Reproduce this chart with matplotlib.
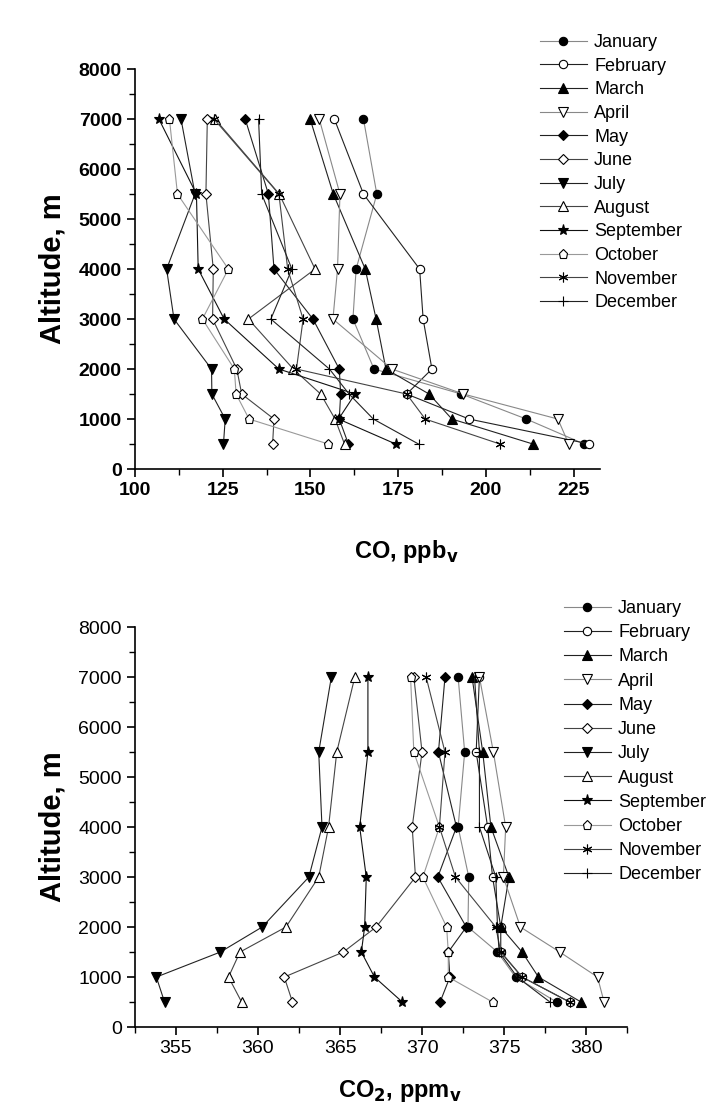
import matplotlib.pyplot as plt
from matplotlib.ticker import MultipleLocator

# Vertical profiles of CO and CO2 by month
altitude = [7000, 5500, 4000, 3000, 2000, 1500, 1000, 500]
months = ["January", "February", "March", "April", "May", "June",
          "July", "August", "September", "October", "November", "December"]

# CO, ppbv
co_jan = [165.1, 168.9, 163.0, 162.1, 168.1, 193.0, 211.5, 228.0]
co_feb = [156.8, 165.1, 181.1, 182.1, 184.6, 177.4, 195.2, 229.5]
co_mar = [149.9, 156.5, 165.6, 168.7, 171.5, 183.8, 190.3, 213.4]
co_apr = [152.5, 158.4, 157.7, 156.4, 173.2, 193.6, 220.5, 223.6]
co_may = [131.4, 138.0, 139.6, 150.7, 158.2, 158.6, 158.2, 160.8]
co_jun = [120.6, 120.2, 122.3, 122.1, 129.0, 130.4, 139.6, 139.2]
co_jul = [113.1, 117.1, 109.0, 111.1, 121.8, 121.9, 125.7, 125.2]
co_aug = [122.8, 141.1, 151.3, 132.3, 145.1, 152.9, 157.0, 159.7]
co_sep = [106.8, 117.5, 118.0, 125.4, 141.0, 162.7, 158.0, 174.3]
co_oct = [109.8, 112.1, 126.6, 119.2, 128.3, 128.8, 132.5, 155.1]
co_nov = [122.5, 141.0, 143.5, 147.9, 146.0, 177.4, 182.7, 204.0]
co_dec = [135.2, 136.1, 144.7, 138.7, 155.4, 161.0, 167.9, 180.8]

# CO2, ppmv
co2_jan = [372.2, 372.6, 372.2, 372.85, 372.8, 374.6, 375.7, 378.2]
co2_feb = [373.5, 373.3, 374.0, 374.3, 374.8, 374.8, 376.1, 379.0]
co2_mar = [373.05, 373.7, 374.2, 375.3, 374.8, 376.1, 377.1, 379.7]
co2_apr = [373.5, 374.35, 375.1, 374.96, 376.0, 378.4, 380.7, 381.1]
co2_may = [371.4, 371.0, 372.1, 370.96, 372.7, 371.6, 371.7, 371.1]
co2_jun = [369.5, 370.0, 369.4, 369.6, 367.2, 365.2, 361.6, 362.1]
co2_jul = [364.47, 363.7, 363.9, 363.1, 360.25, 357.7, 353.8, 354.3]
co2_aug = [365.9, 364.8, 364.3, 363.7, 361.7, 358.9, 358.2, 359.0]
co2_sep = [366.7, 366.7, 366.2, 366.6, 366.5, 366.3, 367.1, 368.8]
co2_oct = [369.3, 369.5, 371.06, 370.05, 371.5, 371.6, 371.6, 374.3]
co2_nov = [370.25, 371.4, 371.06, 372.04, 374.5, 374.8, 376.1, 379.0]
co2_dec = [373.2, 373.5, 373.5, 374.5, 374.6, 374.7, 375.8, 377.8]

co_series = [co_jan, co_feb, co_mar, co_apr, co_may, co_jun,
             co_jul, co_aug, co_sep, co_oct, co_nov, co_dec]
co2_series = [co2_jan, co2_feb, co2_mar, co2_apr, co2_may, co2_jun,
              co2_jul, co2_aug, co2_sep, co2_oct, co2_nov, co2_dec]

# marker, filled?, size, line colour
styles = [
    ("o", True, 6, "#888888"),
    ("o", False, 6, "#222222"),
    ("^", True, 7, "#222222"),
    ("v", False, 7, "#888888"),
    ("D", True, 5.5, "#222222"),
    ("D", False, 5.5, "#444444"),
    ("v", True, 7, "#222222"),
    ("^", False, 7, "#444444"),
    ("*", True, 8, "#111111"),
    ("p", False, 6.5, "#999999"),
    ((6, 2, 0), True, 7, "#444444"),
    ("+", True, 7, "#222222"),
]

plt.rcParams["font.family"] = ["Liberation Sans", "DejaVu Sans"]

fig = plt.figure(figsize=(7.19, 11.12), dpi=100)
ax1 = fig.add_axes([0.1878, 0.5782, 0.6467, 0.3597])
ax2 = fig.add_axes([0.1878, 0.0764, 0.6843, 0.3597])


def draw(ax, series):
    for vals, name, (mk, filled, ms, lc) in zip(series, months, styles):
        ax.plot(vals, altitude, color=lc, lw=0.8, marker=mk, ms=ms,
                mfc="black" if filled else "white", mec="black", mew=0.8,
                label=name)


def style(ax, weight):
    for side in ["top", "right"]:
        ax.spines[side].set_visible(False)
    for side in ["left", "bottom"]:
        ax.spines[side].set_linewidth(1.2)
    ax.set_ylim(0, 8000)
    ax.yaxis.set_major_locator(MultipleLocator(1000))
    ax.yaxis.set_minor_locator(MultipleLocator(500))
    ax.tick_params(which="major", direction="out", length=6, width=1.2,
                   labelsize=14)
    ax.tick_params(which="minor", direction="out", length=4, width=1.0)
    for lab in ax.get_xticklabels() + ax.get_yticklabels():
        lab.set_fontweight(weight)
    ax.set_ylabel("Altitude, m", fontsize=21, fontweight="bold")
    # label's right edge sits at x = 66 px in the figure
    ax.yaxis.set_label_coords((66 - 135) / (ax.get_position().width * 719),
                              0.5)


draw(ax1, co_series)
ax1.set_xlim(100, 232.5)
ax1.xaxis.set_major_locator(MultipleLocator(25))
ax1.xaxis.set_minor_locator(MultipleLocator(12.5))
style(ax1, "bold")
ax1.set_xlabel("CO, ppb$_\\mathbf{v}$", fontsize=17, fontweight="bold")
ax1.xaxis.set_label_coords(0.583, -0.172)

draw(ax2, co2_series)
ax2.set_xlim(352.5, 382.5)
ax2.xaxis.set_major_locator(MultipleLocator(5))
ax2.xaxis.set_minor_locator(MultipleLocator(2.5))
style(ax2, "normal")
ax2.set_xlabel("CO$_\\mathbf{2}$, ppm$_\\mathbf{v}$", fontsize=17,
               fontweight="bold")
ax2.xaxis.set_label_coords(0.539, -0.128)

leg_kw = dict(frameon=False, fontsize=13, handlelength=2.6,
              handletextpad=0.4, labelspacing=0.37, borderpad=0,
              borderaxespad=0)
ax1.legend(loc="upper left", bbox_to_anchor=(540 / 719, 1 - 34 / 1112),
           bbox_transform=fig.transFigure, **leg_kw)
ax2.legend(loc="upper left", bbox_to_anchor=(564 / 719, 1 - 600 / 1112),
           bbox_transform=fig.transFigure,
           **dict(leg_kw, labelspacing=0.40))

fig.savefig("out.png", dpi=100)
